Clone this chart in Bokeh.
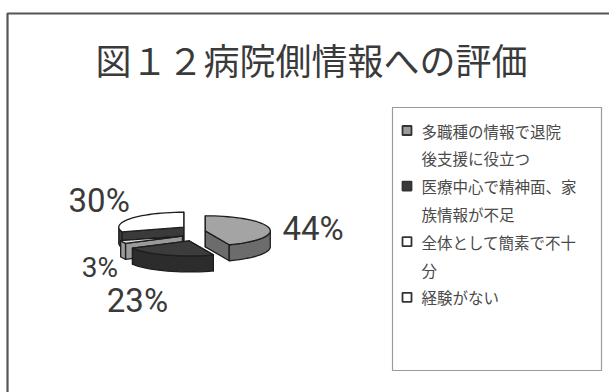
import math
from bokeh.plotting import figure
from bokeh.models import Range1d
from bokeh.core.properties import value
from bokeh.embed import file_html
from bokeh.resources import INLINE

# --- data -------------------------------------------------------------
title = "図１２病院側情報への評価"
categories = [
    "多職種の情報で退院\n後支援に役立つ",
    "医療中心で精神面、家\n族情報が不足",
    "全体として簡素で不十\n分",
    "経験がない",
]
shares = [44, 23, 3, 30]
top_colors = ["#a4a4a4", "#3c3c3c", "#dedede", "#ffffff"]
side_colors = ["#6c6c6c", "#2c2c2c", "#9a9a9a", "#3a3a3a"]
marker_colors = ["#9a9a9a", "#3a3a3a", "#ffffff", "#ffffff"]

# --- pie geometry (pixel space, y grows downwards) ---------------------
CX, CY = 193.0, 232.0      # pie centre
RX, RY = 65.0, 15.0        # ellipse radii of the tilted top face
DEPTH = 16.0               # wall height
EX, EY = 12.0, 9.0         # explosion offset
STEP = 4.0                 # degrees between rim vertices

label_offsets = [(44, 0), (-30, 45), (-23, 25), (-32, -18)]
label_sizes = ["33px", "33px", "28px", "33px"]

p = figure(width=609, height=392, x_range=Range1d(0, 609), y_range=Range1d(392, 0),
           output_backend="svg", toolbar_location=None, min_border=0)
p.axis.visible = False
p.grid.visible = False
p.outline_line_color = None
p.background_fill_color = "white"
p.border_fill_color = "white"

# chart frame
p.line([7, 7, 609], [392, 13, 13], line_color="#555555", line_width=2.2)

p.text([311], [58], text=[title], text_font=value("Noto Sans CJK JP"),
       text_font_size="36px", text_color="#3a3a3a", text_align="center",
       text_baseline="middle")


def arc(a_from, a_to):
    n = max(2, int(abs(a_to - a_from) / STEP) + 1)
    return [a_from + (a_to - a_from) * k / (n - 1) for k in range(n)]


total = float(sum(shares))
slices = []
a = 90.0
for i, v in enumerate(shares):
    sweep = v / total * 360.0
    a1, a2 = a - sweep, a
    mid = math.radians((a1 + a2) / 2)
    ox = CX + EX * math.cos(mid)
    oy = CY - EY * math.sin(mid)
    slices.append(dict(i=i, a1=a1, a2=a2, mid=mid, ox=ox, oy=oy))
    a = a1


def rim(s, deg, drop=0.0):
    t = math.radians(deg)
    return s["ox"] + RX * math.cos(t), s["oy"] - RY * math.sin(t) + drop


xs, ys, fills = [], [], []
for s in sorted(slices, key=lambda d: d["oy"]):
    sides = []
    # radial cut faces
    for cut in (s["a1"], s["a2"]):
        x1, y1 = rim(s, cut)
        sides.append(([s["ox"], x1, x1, s["ox"]],
                      [s["oy"], y1, y1 + DEPTH, s["oy"] + DEPTH]))
    # outer wall, front half only
    for lo_b, hi_b in ((-180, 0), (-540, -360), (180, 360)):
        lo, hi = max(s["a1"], lo_b), min(s["a2"], hi_b)
        if hi - lo > 0.01:
            ang = arc(lo, hi)
            pts = [rim(s, d) for d in ang] + [rim(s, d, DEPTH) for d in reversed(ang)]
            sides.append(([q[0] for q in pts], [q[1] for q in pts]))
    sides.sort(key=lambda sy: sum(sy[1]) / len(sy[1]))
    for sx, sy in sides:
        xs.append(sx); ys.append(sy); fills.append(side_colors[s["i"]])
    pts = [(s["ox"], s["oy"])] + [rim(s, d) for d in arc(s["a2"], s["a1"])]
    xs.append([q[0] for q in pts]); ys.append([q[1] for q in pts])
    fills.append(top_colors[s["i"]])

p.patches(xs, ys, fill_color=fills, line_color="#1e1e1e", line_width=1.3,
          line_join="round")

# percentage labels
label_font = value("Roboto")
for s in slices:
    i = s["i"]
    lx = s["ox"] + RX * math.cos(s["mid"]) + label_offsets[i][0]
    ly = s["oy"] - RY * math.sin(s["mid"]) + label_offsets[i][1]
    p.text([lx], [ly], text=[f"{round(shares[i] / total * 100)}%"], text_font=label_font,
           text_font_size=label_sizes[i], text_color="#3a3a3a", text_align="center",
           text_baseline="middle")

# legend
LEG_L, LEG_T, LEG_R, LEG_B = 392, 107, 601, 370
p.quad(left=[LEG_L], right=[LEG_R], top=[LEG_T], bottom=[LEG_B],
       fill_color="white", line_color="#9a9a9a", line_width=1.2)
row_y = 130.0
ROW_STEP = 27.8
for i, cat in enumerate(categories):
    lines = cat.split("\n")
    p.rect([406.5], [row_y], width=9, height=9, fill_color=marker_colors[i],
           line_color="#333333", line_width=1.8)
    for k, ln in enumerate(lines):
        p.text([421], [row_y + k * ROW_STEP], text=[ln], text_font=value("Noto Sans CJK JP"),
               text_font_size="15.5px", text_color="#4a4a4a", text_align="left",
               text_baseline="middle")
    row_y += ROW_STEP * len(lines)

open("out.html", "w").write(file_html(p, INLINE))
